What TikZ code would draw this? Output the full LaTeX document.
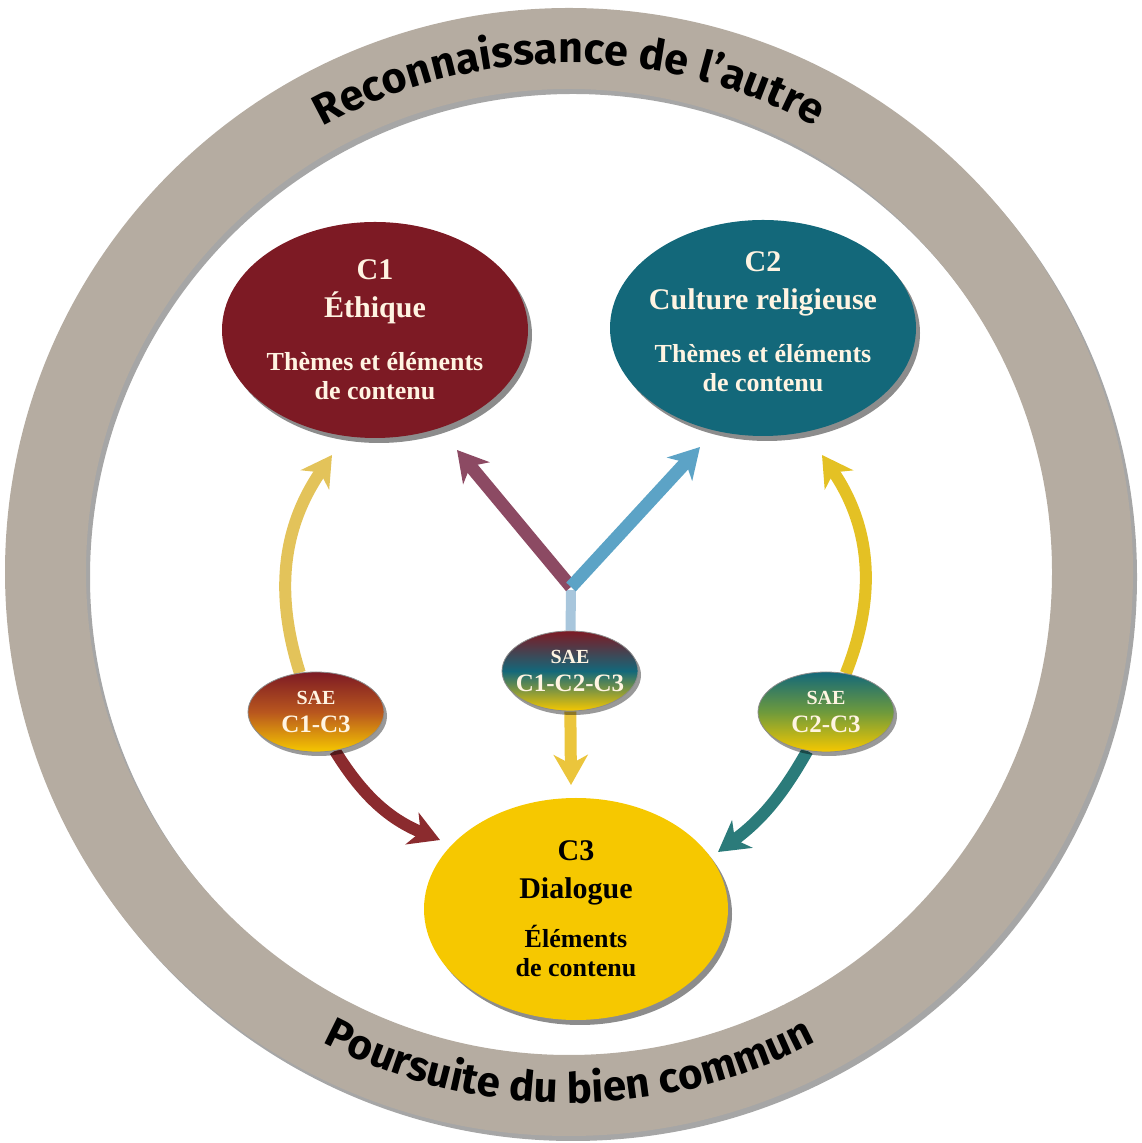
\documentclass[tikz,border=0pt]{standalone}
\usepackage{fontspec}
\setmainfont{Liberation Serif}
\newfontfamily\ringFont{Fira Sans}
\usetikzlibrary{arrows.meta}
\usetikzlibrary{calc}
\usetikzlibrary{shapes.geometric}
\usetikzlibrary{shadows}
\usetikzlibrary{backgrounds}
\usetikzlibrary{decorations.text}

\definecolor{ringGray}{HTML}{B5ACA1}
\definecolor{c1Red}{HTML}{7D1A24}
\definecolor{c2Teal}{HTML}{13687A}
\definecolor{c3Yellow}{HTML}{F6C800}
\definecolor{labelCream}{HTML}{FFF4E2}
\definecolor{saeOrange}{HTML}{B8561E}
\definecolor{saeGreen}{HTML}{6E9A3C}
\definecolor{arrowGold}{HTML}{E3C35A}
\definecolor{arrowMaroon}{HTML}{8B2B2E}
\definecolor{arrowYellow}{HTML}{E4C124}
\definecolor{arrowTeal}{HTML}{2B7B7A}
\definecolor{forkMaroon}{HTML}{8C4A63}
\definecolor{forkBlue}{HTML}{5CA3C6}
\definecolor{stemBlue}{HTML}{A8C6DC}
\definecolor{downYellow}{HTML}{EBC53C}

\tikzset{
	bigEllipse/.style={ellipse, minimum width=306pt, minimum height=216pt, inner sep=0pt,
		drop shadow={shadow xshift=4pt, shadow yshift=-5pt, opacity=0.45, fill=black}},
	bigLabel/.style={align=center, inner sep=0pt, font=\fontsize{30}{38}\selectfont\bfseries},
	saeEllipse/.style={ellipse, minimum width=136pt, minimum height=80pt, inner sep=0pt,
		draw=black!45, line width=0.8pt,
		drop shadow={shadow xshift=3pt, shadow yshift=-4pt, opacity=0.4, fill=black}},
	saeLabel/.style={align=center, inner sep=0pt, text=labelCream, font=\fontsize{25}{28}\selectfont\bfseries},
	flowArrow/.style={line width=12pt, -{Stealth[length=30pt, width=34pt, inset=9pt]}},
	ringText/.style={decorate, decoration={text along path, text align=center}}
}

\newcommand{\drawCurvedLink}[4]{
	\draw[flowArrow, #4] (#1) to[#3] (#2);
}

\begin{document}
\begin{tikzpicture}[x=1pt, y=1pt]

	\useasboundingbox (0,0) rectangle (1141,1143);

	\coordinate (ringCenter) at (569,571);
	\coordinate (shadowCenter) at (573,566);

	\fill[black, opacity=0.35, even odd rule] (shadowCenter) circle[radius=564] (shadowCenter) circle[radius=483];
	\fill[ringGray, even odd rule] (ringCenter) circle[radius=564] (ringCenter) circle[radius=483];

	\path[ringText, decoration={text={|\ringFont\bfseries\fontsize{43}{43}\selectfont|Reconnaissance de l’autre}}]
		($(ringCenter)+(122:509)$) arc[start angle=122, end angle=58, radius=509];
	\path[ringText, decoration={text={|\ringFont\bfseries\fontsize{42}{42}\selectfont|Poursuite du bien commun}}]
		($(ringCenter)+(241:531)$) arc[start angle=241, end angle=299, radius=531];

	\node[bigEllipse, fill=c1Red,
		label={[bigLabel, text=labelCream]center:C1\\Éthique\\[15pt]{\fontsize{26}{29}\selectfont Thèmes et éléments}\\[-9pt]{\fontsize{26}{29}\selectfont de contenu}}]
		(c1) at (375,813) {};
	\node[bigEllipse, fill=c2Teal,
		label={[bigLabel, text=labelCream, yshift=6pt]center:C2\\Culture religieuse\\[15pt]{\fontsize{26}{29}\selectfont Thèmes et éléments}\\[-9pt]{\fontsize{26}{29}\selectfont de contenu}}]
		(c2) at (763,815) {};
	\node[bigEllipse, fill=c3Yellow, minimum width=304pt, minimum height=222pt,
		label={[bigLabel, text=black]center:C3\\Dialogue\\[11pt]{\fontsize{26}{29}\selectfont Éléments}\\[-9pt]{\fontsize{26}{29}\selectfont de contenu}}]
		(c3) at (576,234) {};

	\node[saeEllipse, top color=c1Red, bottom color=c3Yellow, middle color=saeOrange,
		label={[saeLabel]center:{\fontsize{20}{28}\selectfont SAE}\\C1-C3}]
		(sae13) at (316,431) {};
	\node[saeEllipse, top color=c1Red, bottom color=c3Yellow, middle color=c2Teal,
		label={[saeLabel]center:{\fontsize{20}{28}\selectfont SAE}\\C1-C2-C3}]
		(sae123) at (570,472) {};
	\node[saeEllipse, top color=c2Teal, bottom color=c3Yellow, middle color=saeGreen,
		label={[saeLabel]center:{\fontsize{20}{28}\selectfont SAE}\\C2-C3}]
		(sae23) at (826,431) {};

	\coordinate (tipC1Left) at (332,688);
	\coordinate (tipC1Mid) at (457,693);
	\coordinate (tipC2Mid) at (700,696);
	\coordinate (tipC2Right) at (822,688);
	\coordinate (tipC3Left) at (440,303);
	\coordinate (tipC3Mid) at (571,358);
	\coordinate (tipC3Right) at (718,291);
	\coordinate (fork) at (571,553);

	\begin{scope}[on background layer]
		\drawCurvedLink{sae13}{tipC1Left}{bend left=26}{arrowGold}
		\drawCurvedLink{sae13}{tipC3Left}{bend right=18}{arrowMaroon}
		\drawCurvedLink{sae23}{tipC2Right}{bend right=28}{arrowYellow}
		\drawCurvedLink{sae23}{tipC3Right}{bend left=12}{arrowTeal}
		\draw[line width=10pt, stemBlue] (sae123) -- (fork);
		\draw[flowArrow, line width=13pt, forkMaroon] ([yshift=3pt]fork) -- (tipC1Mid);
		\draw[flowArrow, line width=13pt, forkBlue] ([yshift=3pt]fork) -- (tipC2Mid);
		\draw[flowArrow, downYellow] (sae123) -- (tipC3Mid);
	\end{scope}

\end{tikzpicture}
\end{document}
